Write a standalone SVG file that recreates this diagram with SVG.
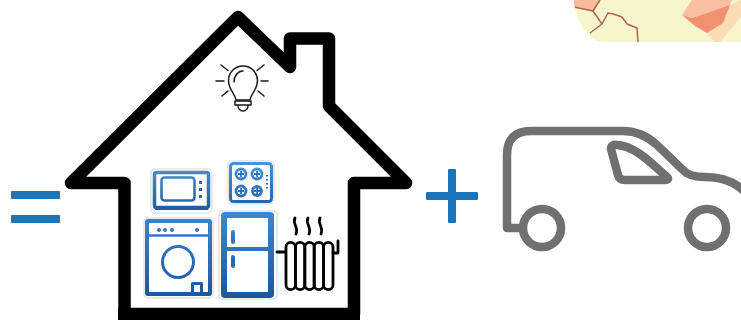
<svg xmlns="http://www.w3.org/2000/svg" width="741" height="320" viewBox="0 0 741 320">
<defs>
<linearGradient id="blue2" gradientUnits="userSpaceOnUse" x1="0" y1="212" x2="0" y2="298"><stop offset="0" stop-color="#3d88d0"/><stop offset="1" stop-color="#1b56a0"/></linearGradient>
<linearGradient id="blue3" gradientUnits="userSpaceOnUse" x1="0" y1="162" x2="0" y2="210"><stop offset="0" stop-color="#4a94d8"/><stop offset="1" stop-color="#1e5fa8"/></linearGradient>
<clipPath id="mapclip"><path d="M574 0H741V42H606Q582 42 574 4Z"/></clipPath>
</defs>
<style>
.ink{fill:none;stroke:#000;stroke-linecap:round;stroke-linejoin:round}
.thin{fill:none;stroke:#1a1a1a;stroke-linecap:round;stroke-linejoin:round;stroke-width:1.500}
.van{fill:none;stroke:#707070;stroke-width:8.500;stroke-linecap:round;stroke-linejoin:round}
.halo{fill:#fff;stroke:#e8eaee;stroke-width:2}
.b2{fill:none;stroke:url(#blue2);stroke-linejoin:round}
.b3{fill:none;stroke:url(#blue3);stroke-linejoin:round}
.sign{fill:#1b75bb}
.border{fill:none;stroke:#ac6650;stroke-width:1.500;stroke-linejoin:round}
</style>
<rect width="741" height="320" fill="#fff"/>
<g id="map" clip-path="url(#mapclip)">
<rect x="574" y="0" width="167" height="42" fill="#f6f5cd"/>
<path d="M574 0H600L593 11L574 7Z" fill="#f7bd9a"/>
<path d="M682 15L692 0H732L730 5L692 18Z" fill="#f8c0a0"/>
<path d="M692 18L730 5L741 0V17L720 42H714L707 33L695 26Z" fill="#fbdcb4"/>
<path d="M682 15L692 18L730 5L723 23L707 33L695 26Z" fill="#f29170"/>
<path class="border" d="M600 0L593 11L574 7M593 11L602 24L590 33M602 24L608 13L613 14L622 17L627 24L637 28L638 42"/>
</g>
<g id="equals"><rect class="sign" x="11" y="191" width="49" height="8" rx="1"/><rect class="sign" x="11" y="215" width="49" height="8" rx="1"/></g>
<g id="house"><path d="M71 183L238 17L290 67V38.500H329V106L406 183H354V314H124.500V183Z" fill="#fff" stroke="#000" stroke-width="12.500" stroke-linejoin="round"/><rect x="118" y="308" width="242" height="12" fill="#000"/></g>
<g id="bulb">
<path class="thin" d="M236 100C235 93 228.500 90 228.500 80.500A14.500 14.500 0 0 1 257.500 80.500C257.500 90 251 93 250 100Z"/>
<path class="thin" d="M234 82A9 11 0 0 1 243 71"/>
<path class="thin" stroke-width="1.800" d="M235 101H251V105H235ZM238 106A5 5 0 0 0 248 106"/>
<path class="thin" stroke-width="1.800" d="M216 81H224M261 81H268M221 65L228 70.500M257 70.500L264 65M222 96L228 91M258 91L264 96"/>
</g>
<g id="microwave">
<rect class="halo" x="151" y="169" width="61" height="44" rx="4"/>
<rect x="154.500" y="172.500" width="54" height="35" rx="2" fill="#fff" stroke="url(#blue3)" stroke-width="3.500"/>
<rect class="b3" x="161.500" y="177.500" width="33" height="23" rx="3" stroke-width="2.600"/>
<path d="M199 181h3v3h-3zM199 188h3v3h-3zM199 195h3v3h-3z" fill="#2a6cb5"/>
<path d="M155 206h53v4h-53z" fill="#1e5fa8"/>
</g>
<g id="stove">
<rect class="halo" x="228" y="161" width="46" height="43" rx="5"/>
<rect x="230.500" y="163.500" width="41" height="38" rx="3" fill="#fff" stroke="url(#blue3)" stroke-width="3"/>
<g class="b3" stroke-width="2.800"><circle cx="241" cy="174" r="5"/><circle cx="257" cy="174" r="5"/><circle cx="241" cy="191" r="5"/><circle cx="257" cy="191" r="4.500"/></g>
<path d="M238 174h6M241 171v6M254 174h6M257 171v6M238 191h6M241 188v6M254 191h6M257 188v6" stroke="#2f73bd" stroke-width="1.800"/>
<path d="M267 175v1.500M267 179v1.500M267 183v1.500M267 187v1.500" stroke="#2f73bd" stroke-width="2"/>
</g>
<g id="washer">
<rect class="halo" x="144" y="218" width="69" height="80" rx="4"/>
<rect class="b2" x="147" y="221" width="63" height="73" rx="1" stroke-width="4"/>
<path class="b2" stroke-width="2.500" d="M149 235.500H209"/>
<circle cx="159" cy="230" r="2" fill="#2f78c4"/><circle cx="165" cy="230" r="2" fill="#2f78c4"/><circle cx="172" cy="230" r="2" fill="#2f78c4"/><circle cx="197" cy="230" r="2" fill="#2f78c4"/>
<circle class="b2" cx="178" cy="262" r="15.500" stroke-width="3"/>
<rect class="b2" x="192.500" y="283.500" width="9" height="10" stroke-width="3"/>
</g>
<g id="fridge">
<rect class="halo" x="219" y="211" width="58" height="88" rx="3"/>
<rect class="b2" x="224" y="215" width="47" height="80" rx="1" stroke-width="6"/>
<path class="b2" stroke-width="4" d="M226 249H270"/>
<path class="b2" stroke-width="4" stroke-linecap="round" d="M233 232V242M233 257V266"/>
</g>
<g id="radiator">
<g class="ink" stroke-width="2.800">
<path d="M277 252H285M333 253H338V241"/>
<path d="M286 247a4.700 4.700 0 0 1 9.400 0V285a4.700 4.700 0 0 1-9.400 0Z"/>
<path d="M295.400 247a4.700 4.700 0 0 1 9.400 0V285a4.700 4.700 0 0 1-9.400 0Z"/>
<path d="M304.800 247a4.700 4.700 0 0 1 9.400 0V285a4.700 4.700 0 0 1-9.400 0Z"/>
<path d="M314.200 247a4.700 4.700 0 0 1 9.400 0V285a4.700 4.700 0 0 1-9.400 0Z"/>
<path d="M323.600 247a4.700 4.700 0 0 1 9.400 0V285a4.700 4.700 0 0 1-9.400 0Z"/>
<path d="M295 218C292 224 299 227 296 234M308 218C305 224 312 227 309 234M320 218C317 224 324 227 321 234"/>
</g>
</g>
<g id="plus"><rect class="sign" x="426" y="192" width="52" height="8" rx="1"/><rect class="sign" x="448" y="169" width="8" height="54" rx="1"/></g>
<g id="van">
<path class="van" d="M519 228H507V155Q507 131 531 131H623Q642 131 657 145L683 170Q689 177 705 177Q730 177 745 192"/>
<path class="van" stroke-width="7" d="M611 149Q611 144 617 145C635 146 650 162 667 177Q670 180 664 180H625Q619 180 618 175Z"/>
<circle class="van" cx="542" cy="228" r="19"/>
<circle class="van" cx="707" cy="228" r="19"/>
</g>
</svg>
